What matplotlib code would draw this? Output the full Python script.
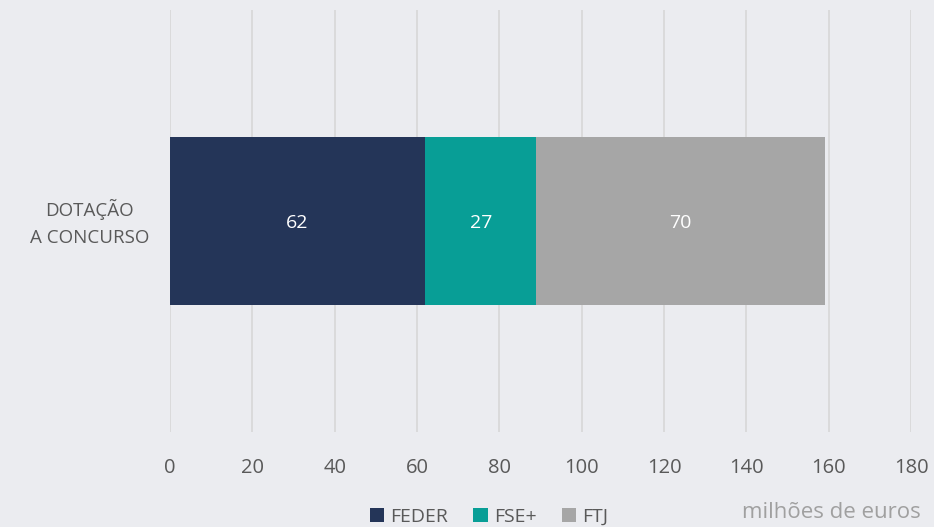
import matplotlib
matplotlib.use("Agg")
import matplotlib.pyplot as plt
from matplotlib.patches import Patch

plt.rcParams['font.family'] = ['Open Sans', 'DejaVu Sans']

categories = ["DOTAÇÃO\nA CONCURSO"]
series_names = ["FEDER", "FSE+", "FTJ"]
series_values = [[62], [27], [70]]
colors = ["#243558", "#089E96", "#A6A6A6"]
xticks = [0, 20, 40, 60, 80, 100, 120, 140, 160, 180]

bg = "#EBECF0"
fig = plt.figure(figsize=(9.34, 5.27), dpi=100, facecolor=bg)
ax = fig.add_axes([170/934, 1-432/527, (911-170)/934, (432-10)/527], facecolor=bg)

left = [0]*len(categories)
ypos = list(range(len(categories)))
for name, vals, c in zip(series_names, series_values, colors):
    bars = ax.barh(ypos, vals, left=left, height=0.4, color=c, label=name, zorder=3)
    for b, v in zip(bars, vals):
        ax.text(b.get_x()+b.get_width()/2, b.get_y()+b.get_height()/2 - 0.005, f"{v}",
                ha='center', va='center', color='white', fontsize=14, zorder=4)
    left = [l+v for l, v in zip(left, vals)]

ax.set_xlim(0, 180)
ax.set_ylim(-0.5, 0.5)
ax.set_xticks(xticks)
ax.set_xticklabels([str(t) for t in xticks])
ax.set_yticks(ypos)
ax.set_yticklabels([])
for y, cat in zip(ypos, categories):
    ax.annotate(cat, xy=(0, y), xycoords=('axes fraction', 'data'),
                xytext=(-58, -1.5), textcoords='offset points',
                ha='center', va='center', multialignment='center',
                linespacing=1.6, fontsize=13.5, color='#595959')
ax.tick_params(axis='y', length=0)
ax.tick_params(axis='x', length=0, pad=19, labelsize=14.5, labelcolor='#595959')
ax.grid(axis='x', color='#D9D9D9', linewidth=1.3, zorder=0)
for s in ax.spines.values():
    s.set_visible(False)

handles = [Patch(facecolor=c, label=n) for n, c in zip(series_names, colors)]
leg = fig.legend(handles=handles, loc='center', bbox_to_anchor=(489/934, 1-517/527), ncol=3,
                 frameon=False, fontsize=14, handlelength=0.75, handleheight=0.75,
                 handletextpad=0.3, columnspacing=1.3, labelcolor='#595959')
fig.text(921/934, 1-512/527, "milhões de euros", ha='right', va='center', fontsize=16, color='#A0A0A0')

fig.savefig("out.png", dpi=100, facecolor=bg)
